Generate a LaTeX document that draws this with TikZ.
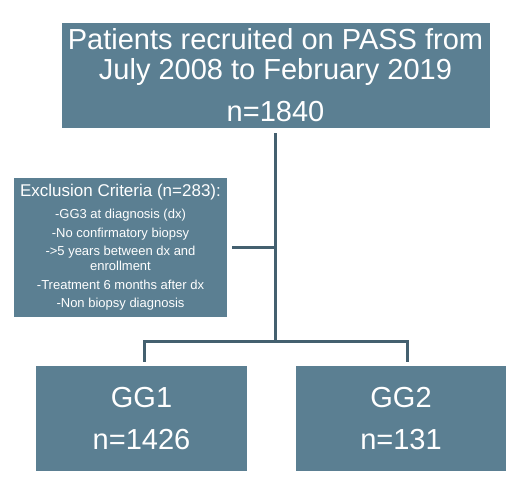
\documentclass[tikz,border=0pt]{standalone}
\usepackage{fontspec}
\setmainfont{Liberation Sans}

\begin{document}
\begin{tikzpicture}[x=1pt, y=-1pt]

% =======================================================
% Color definitions
% =======================================================
\definecolor{boxblue}{HTML}{5B7F92}    % box fill
\definecolor{linkblue}{HTML}{44606F}   % connector lines

% =======================================================
% Layout parameters
% =======================================================

% Trunk line position
\def\trunkx{275.5}
\def\splity{341}

% =======================================================
% Styles
% =======================================================
\tikzset{
  stagebox/.style = {fill=boxblue, text=white, align=center, inner sep=0pt},
  link/.style     = {linkblue, line width=3pt},
}

\useasboundingbox (0,0) rectangle (532,478);

% =======================================================
% Boxes
% =======================================================

% Recruited patients
\node[stagebox, minimum width=428pt, minimum height=105pt,
      font=\fontsize{29}{30}\selectfont]
    (recruit) at (\trunkx, 75.5)
    {Patients recruited on PASS from\\
     July 2008 to February 2019\\[12pt]
     n=1840};

% Exclusion criteria
\node[stagebox, minimum width=213pt, minimum height=139pt,
      font=\fontsize{13}{15}\selectfont]
    (excl) at (120.5, 247.5)
    {{\fontsize{17}{20}\selectfont Exclusion Criteria (n=283):}\\[7pt]
     -GG3 at diagnosis (dx)\\[3.5pt]
     -No confirmatory biopsy\\[3.5pt]
     ->5 years between dx and\\
     enrollment\\[3.5pt]
     -Treatment 6 months after dx\\[3.5pt]
     -Non biopsy diagnosis};

% Grade groups
\node[stagebox, minimum width=211pt, minimum height=105pt,
      font=\fontsize{29}{42}\selectfont]
    (gg1) at (141.5, 418.5)
    {GG1\\n=1426};

\node[stagebox, minimum width=210pt, minimum height=105pt,
      font=\fontsize{29}{42}\selectfont]
    (gg2) at (401, 418.5)
    {GG2\\n=131};

% =======================================================
% Connectors
% =======================================================
\coordinate (split) at (\trunkx, \splity);

% trunk: recruited -> split
\draw[link] ([yshift=-5pt]recruit.south) -- (split);

% exclusion branch
\draw[link] ([xshift=5pt]excl.east) -- (excl.east -| split);

% split -> GG1 and GG2
\draw[link]
    ([xshift=2.5pt, yshift=4pt]gg1.north) |- (split)
    -| ([xshift=6.5pt, yshift=4pt]gg2.north);

\end{tikzpicture}
\end{document}
